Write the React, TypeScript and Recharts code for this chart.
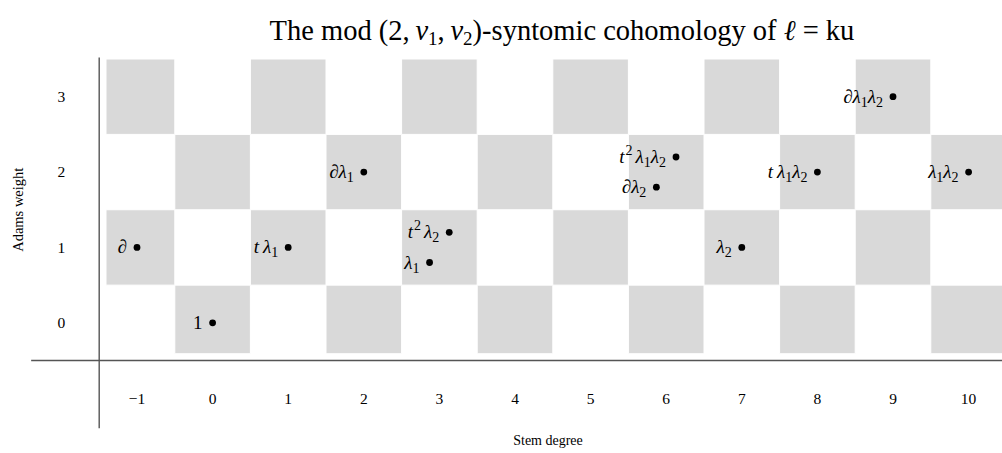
import React from 'react';
import { ScatterChart, Scatter, XAxis, YAxis, ReferenceArea, ReferenceLine } from 'recharts';

// axis ticks
const stemTicks = [-1, 0, 1, 2, 3, 4, 5, 6, 7, 8, 9, 10];
const weightTicks = [0, 1, 2, 3];

// classes in the chart: stem degree, Adams weight, name ( _ = subscript, ^ = superscript )
const classStems = [-1, 0, 1, 2, 3, 3, 6, 6, 7, 8, 9, 10];
const classWeights = [1, 0, 1, 2, 1, 1, 2, 2, 1, 2, 3, 2];
const classNames = ['∂', '1', 't λ_1', '∂λ_1', 't^2λ_2', 'λ_1', 't^2λ_1λ_2', '∂λ_2', 'λ_2', 't λ_1λ_2', '∂λ_1λ_2', 'λ_1λ_2'];

const SERIF = '"Liberation Serif", "DejaVu Serif", serif';
const W = 1010;
const H = 453;
const PLOT_LEFT = 99.2;
const PLOT_TOP = 59;
const PLOT_BOTTOM = 360.5;
const X_AXIS_H = H - PLOT_BOTTOM;
const PLOT_RIGHT = PLOT_LEFT + 12 * 75.6;

// two classes in one cell get pushed apart a little
const points = (() => {
  const seen: Record<string, number> = {};
  const count: Record<string, number> = {};
  classStems.forEach((s, i) => {
    const k = s + ',' + classWeights[i];
    count[k] = (count[k] || 0) + 1;
  });
  return classStems.map((s, i) => {
    const k = s + ',' + classWeights[i];
    const n = seen[k] || 0;
    seen[k] = n + 1;
    let dx = 0, dy = 0;
    if (count[k] > 1) {
      dx = n === 0 ? 0.13 : -0.13;
      dy = n === 0 ? 0.2 : -0.2;
    }
    return { x: s + dx, y: classWeights[i] + dy, name: classNames[i] };
  });
})();

const cells: { x: number; y: number }[] = [];
stemTicks.forEach(s => weightTicks.forEach(w => {
  if ((s + w) % 2 === 0) cells.push({ x: s, y: w });
}));

function mathSpans(src: string) {
  const out: React.ReactNode[] = [];
  let shift = 0;
  let i = 0;
  let k = 0;
  let pad = 0;
  while (i < src.length) {
    let ch = src[i];
    if (ch === '_' || ch === '^') {
      const target = ch === '_' ? 4 : -8;
      ch = src[i + 1];
      i += 2;
      out.push(<tspan key={k++} dx={target < 0 ? 1 : 0} dy={target - shift} fontSize={14} fontStyle="normal">{ch}</tspan>);
      shift = target;
      if (target < 0) pad = 3;
    } else {
      i++;
      if (ch === ' ') {
        pad = 4;
        continue;
      }
      const italic = /[a-zλ∂]/.test(ch);
      out.push(<tspan key={k++} dx={pad} dy={-shift} fontStyle={italic ? 'italic' : 'normal'}>{ch}</tspan>);
      shift = 0;
      pad = 0;
    }
  }
  return out;
}

const ClassDot = (props: any) => {
  const { cx, cy, payload } = props;
  return (
    <g>
      <circle cx={cx} cy={cy} r={3.4} fill="#000" />
      <text x={cx - 10} y={cy + 6} textAnchor="end" fontFamily={SERIF} fontSize={19} fill="#000">
        {mathSpans(payload.name)}
      </text>
    </g>
  );
};

const fmt = (v: number) => (v < 0 ? '−' + Math.abs(v) : String(v));

const XTick = (props: any) => (
  <text x={props.x} y={PLOT_BOTTOM + 43.5} textAnchor="middle" fontFamily={SERIF} fontSize={15.5} fill="#000">
    {fmt(props.payload.value)}
  </text>
);

const YTick = (props: any) => (
  <text x={PLOT_LEFT - 37.8} y={props.y + 5.2} textAnchor="middle" fontFamily={SERIF} fontSize={15.5} fill="#000">
    {fmt(props.payload.value)}
  </text>
);

const YTitle = () => {
  const cy = PLOT_TOP + (PLOT_BOTTOM - PLOT_TOP) / 2;
  return (
    <text x={18} y={cy} transform={`rotate(-90, 18, ${cy})`} textAnchor="middle" dominantBaseline="central"
      fontFamily={SERIF} fontSize={14.5} fill="#000">
      Adams weight
    </text>
  );
};

const XTitle = () => (
  <text x={548} y={H - 8} textAnchor="middle" fontFamily={SERIF} fontSize={14} fill="#000">
    Stem degree
  </text>
);

const subStyle: React.CSSProperties = { fontSize: 19, verticalAlign: '-5px', lineHeight: 0 };

export default function App() {
  return (
    <div style={{ position: 'absolute', left: 0, top: 0, width: 1002, height: H, overflow: 'hidden', background: '#fff' }}>
      <div style={{
        position: 'absolute', left: 0, width: 1124, top: 17, textAlign: 'center',
        fontFamily: SERIF, fontSize: 28.5, lineHeight: '28px', color: '#000', whiteSpace: 'nowrap'
      }}>
        The mod (2,&thinsp;<i>v</i><sub style={subStyle}>1</sub>,&thinsp;<i>v</i><sub style={subStyle}>2</sub>)-syntomic cohomology of <i>ℓ</i> = ku
      </div>
      <ScatterChart width={W} height={H} margin={{ top: PLOT_TOP, right: W - PLOT_RIGHT, bottom: 0, left: 0 }}>
        <XAxis type="number" dataKey="x" domain={[-1.5, 10.5]} ticks={stemTicks} interval={0} allowDataOverflow
          axisLine={false} tickLine={false} tick={XTick} height={X_AXIS_H} label={{ content: XTitle }} />
        <YAxis type="number" dataKey="y" domain={[-0.5, 3.5]} ticks={weightTicks} interval={0} allowDataOverflow
          axisLine={false} tickLine={false} tick={YTick} width={PLOT_LEFT} label={{ content: YTitle }} />
        {cells.map(c => (
          <ReferenceArea key={c.x + '_' + c.y} x1={Math.max(c.x - 0.5, -1.41)} x2={c.x + 0.5}
            y1={Math.max(c.y - 0.5, -0.41)} y2={c.y + 0.5} fill="#d9d9d9" fillOpacity={1}
            stroke="#fff" strokeWidth={1} ifOverflow="visible" />
        ))}
        <ReferenceLine segment={[{ x: -2.4, y: -0.5 }, { x: 10.6, y: -0.5 }]} stroke="#555" strokeWidth={1.4} ifOverflow="visible" />
        <ReferenceLine segment={[{ x: -1.5, y: 3.52 }, { x: -1.5, y: -1.4 }]} stroke="#555" strokeWidth={1.4} ifOverflow="visible" />
        <Scatter data={points} shape={ClassDot} isAnimationActive={false} />
      </ScatterChart>
    </div>
  );
}
